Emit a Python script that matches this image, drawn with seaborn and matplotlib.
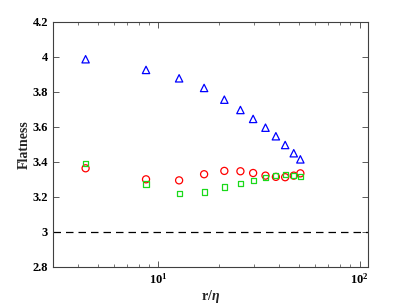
import matplotlib
matplotlib.use("Agg")
import matplotlib.pyplot as plt
import seaborn as sns
import numpy as np
from matplotlib.ticker import LogLocator, NullFormatter, FixedLocator

sns.set_style("ticks")
plt.rcParams['font.family'] = ['Liberation Serif', 'DejaVu Serif']
plt.rcParams['mathtext.fontset'] = 'custom'
plt.rcParams['mathtext.rm'] = 'Liberation Serif:bold'
plt.rcParams['mathtext.it'] = 'Liberation Serif:bold:italic'
plt.rcParams['mathtext.bf'] = 'Liberation Serif:bold'

r_eta = [4.36, 8.7, 12.7, 16.9, 21.3, 25.6, 29.6, 34.1, 38.4, 42.7, 47.1, 50.8]
flat_tri = [3.987, 3.926, 3.878, 3.823, 3.756, 3.697, 3.646, 3.596, 3.547, 3.497, 3.450, 3.415]
flat_circ = [3.364, 3.301, 3.295, 3.330, 3.349, 3.347, 3.337, 3.322, 3.315, 3.313, 3.322, 3.335]
flat_sq = [3.393, 3.274, 3.219, 3.229, 3.257, 3.276, 3.293, 3.310, 3.322, 3.330, 3.325, 3.316]
ref_level = 3.0

fig = plt.figure(figsize=(4.07, 3.05), dpi=100)
ax = fig.add_axes([0.130, 0.1246, 0.774, 0.8034])

sns.scatterplot(x=r_eta, y=flat_tri, marker='^', s=28, facecolors='none',
                edgecolor=(0, 0, 1), linewidth=0.9, ax=ax, zorder=3)
sns.scatterplot(x=r_eta, y=flat_circ, marker='o', s=26, facecolors='none',
                edgecolor=(1, 0, 0), linewidth=0.9, ax=ax, zorder=3)
sns.scatterplot(x=r_eta, y=flat_sq, marker='s', s=14, facecolors='none',
                edgecolor=(0.1, 0.85, 0.1), linewidth=0.9, ax=ax, zorder=3)
ax.axhline(ref_level, color='black', linestyle=(0, (6, 4)), linewidth=0.9)

ax.set_xscale('log')
ax.set_xlim(3, 110)
ax.set_ylim(2.8, 4.2)
ax.yaxis.set_major_locator(FixedLocator([2.8, 3.0, 3.2, 3.4, 3.6, 3.8, 4.0, 4.2]))
ax.set_yticklabels(['2.8', '3', '3.2', '3.4', '3.6', '3.8', '4', '4.2'])
ax.xaxis.set_major_locator(FixedLocator([10, 100]))
ax.set_xticklabels([r'$\mathbf{10^1}$', r'$\mathbf{10^2}$'])
ax.xaxis.set_minor_locator(LogLocator(base=10, subs=np.arange(2, 10)))
ax.xaxis.set_minor_formatter(NullFormatter())

for sp in ax.spines.values():
    sp.set_visible(True)
    sp.set_color('#404040')
    sp.set_linewidth(0.8)
ax.tick_params(which='both', direction='in', top=True, right=True,
               colors='#404040', labelcolor='black', labelsize=9)
ax.tick_params(which='major', length=4, width=0.6)
ax.tick_params(which='minor', length=2, width=0.5)
for lab in ax.get_yticklabels() + ax.get_xticklabels():
    lab.set_fontweight('bold')

ax.set_xlabel(r'r/$\eta$', fontsize=10, fontweight='bold', labelpad=1)
ax.set_ylabel('Flatness', fontsize=10, fontweight='bold', labelpad=1)

fig.savefig('out.png', dpi=100)
